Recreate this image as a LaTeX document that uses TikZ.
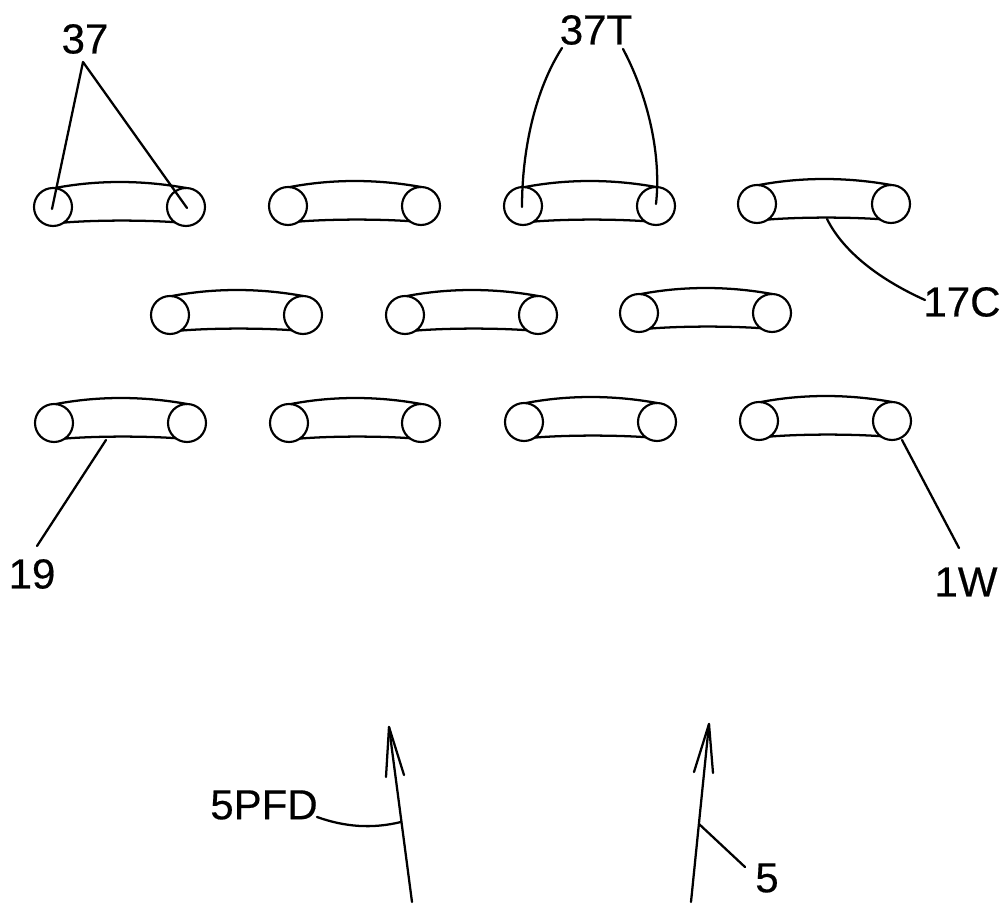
\documentclass[tikz,border=0pt]{standalone}
\usepackage{fontspec}
\setmainfont[FakeBold=0.4]{Liberation Sans}
\usetikzlibrary{calc}
\tikzset{
  inkline/.style={line width=1.7pt,black,line cap=round,line join=round},
  roller/.style={circle,draw=black,line width=1.6pt,minimum size=28.5pt,inner sep=0pt,outer sep=0pt},
  lbl/.style={font=\fontsize{31.5}{32}\selectfont,inner sep=0pt,text=black}
}
\newcommand{\linkpair}[4]{%
  \node[roller] (#1l) at (#2,#4) {};
  \node[roller] (#1r) at (#3,#4) {};
  \draw[inkline] (#1l.85) .. controls ($(#1l)!0.33!(#1r)+(0,-27)$) and ($(#1l)!0.67!(#1r)+(0,-27)$) .. (#1r.90);
  \draw[inkline] (#1l.-55) .. controls ($(#1l)!0.33!(#1r)+(0,13)$) and ($(#1l)!0.67!(#1r)+(0,13)$) .. (#1r.-127);
}
\begin{document}
\begin{tikzpicture}[x=0.75pt,y=-0.75pt]
\useasboundingbox (0,0) rectangle (1004,905);
\linkpair{a}{53}{186}{207}
\linkpair{b}{288}{421}{206}
\linkpair{c}{523}{656}{206}
\linkpair{d}{757}{891}{204}
\linkpair{e}{170}{303}{315}
\linkpair{f}{405}{538}{315}
\linkpair{g}{639}{772}{313}
\linkpair{h}{54}{187}{423}
\linkpair{i}{289}{421}{423}
\linkpair{j}{524}{657}{422}
\linkpair{k}{759}{892}{421}
\node[lbl] (n37) at (85,39) {37};
\node[lbl] (n37T) at (596,30) {37T};
\node[lbl] (n17C) at (962,302) {17C};
\node[lbl] (n19) at (32,574) {19};
\node[lbl] (n1W) at (966,582) {1W};
\node[lbl] (n5PFD) at (264,805) {5PFD};
\node[lbl] (n5) at (767,878) {5};
\coordinate (apex) at (83,62);
\draw[inkline] (52,209) -- (apex) -- (187,208);
\coordinate (tl) at (562,48);
\coordinate (tr) at (623,49);
\draw[inkline] (tl) .. controls (535,90) and (522,150) .. (522,207);
\draw[inkline] (tr) .. controls (645,90) and (662,150) .. (656,204);
\coordinate (cs) at (827,219);
\coordinate (ce) at (925,300);
\draw[inkline] (cs) .. controls (845,255) and (885,282) .. (ce);
\draw[inkline] (106,440) -- (37,546);
\draw[inkline] (902,440) -- (959,548);
\coordinate (tipa) at (389,727);
\coordinate (taila) at (412,902);
\coordinate (tipb) at (709,724);
\coordinate (tailb) at (691,902);
\draw[inkline] (taila) -- (tipa);
\draw[inkline] (tailb) -- (tipb);
\draw[inkline] (386,777) -- (tipa) -- (404,775);
\draw[inkline] (694,772) -- (tipb) -- (713,773);
\draw[inkline] (317,817) .. controls (345,827) and (372,829) .. (401,822);
\draw[inkline] (699,824) -- (745,867);
\end{tikzpicture}
\end{document}
